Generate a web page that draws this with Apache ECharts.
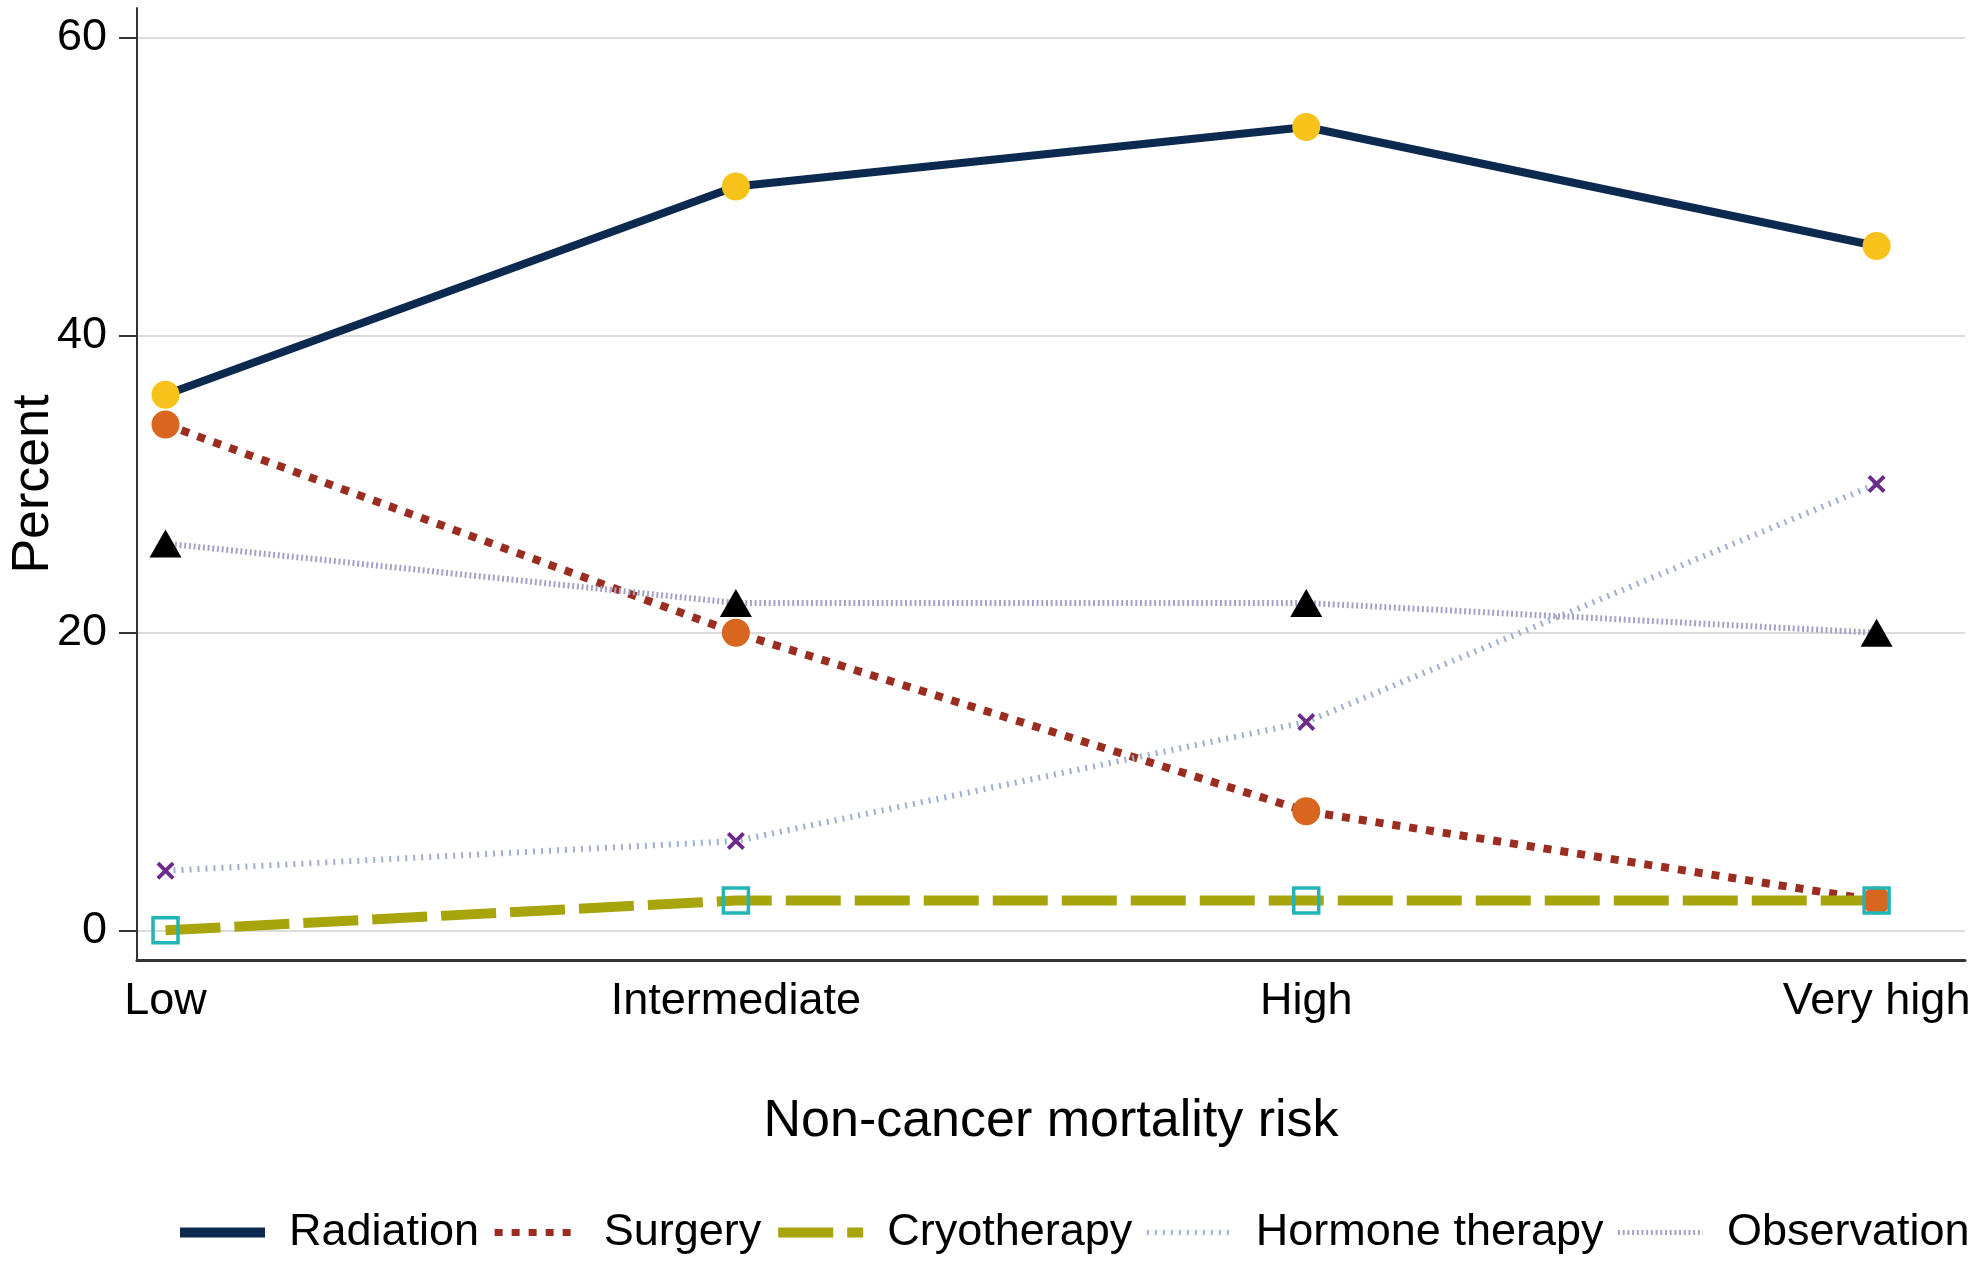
<!DOCTYPE html>
<html>
<head>
<meta charset="utf-8">
<script src="https://cdn.jsdelivr.net/npm/echarts@6/dist/echarts.min.js"></script>
<style>
  html, body { margin: 0; padding: 0; background: #fff; }
  #chart { width: 1984px; height: 1280px; }
</style>
</head>
<body>
<div id="chart"></div>
<script>
// categories on the x axis (placed at 1..4 on a value axis)
var categories = ["Low", "Intermediate", "High", "Very high"];
var yTicks = [0, 20, 40, 60];

// percent by treatment
var radiation = [36, 50, 54, 46];
var surgery = [34, 20, 8, 2];
var cryotherapy = [0, 2, 2, 2];
var hormoneTherapy = [4, 6, 14, 30];
var observation = [26, 22, 22, 20];

var font = "'Liberation Sans', Arial, sans-serif";
var xMark = "path://M1.5,0L5,3.5L8.5,0L10,1.5L6.5,5L10,8.5L8.5,10L5,6.5L1.5,10L0,8.5L3.5,5L0,1.5Z";

function toPoints(values) {
  return values.map(function (v, i) { return [i + 1, v]; });
}

var chart = echarts.init(document.getElementById("chart"));

var option = {
  backgroundColor: "#fff",
  animation: false,
  grid: { left: 137, right: 19, top: 8, bottom: 320, outerBoundsMode: "none" },
  legend: {
    left: 175,
    top: 1210,
    padding: 0,
    itemWidth: 85,
    itemHeight: 20,
    itemGap: 12,
    textStyle: { fontFamily: font, fontSize: 45, color: "#000", padding: [0, 0, 0, 19] },
    itemStyle: { opacity: 0 },
    data: [
      { name: "Radiation", lineStyle: { width: 10 } },
      { name: "Surgery", lineStyle: { width: 7 } },
      { name: "Cryotherapy", lineStyle: { width: 10 } },
      { name: "Hormone therapy", lineStyle: { width: 5 } },
      { name: "Observation", lineStyle: { width: 5 } }
    ]
  },
  xAxis: {
    type: "value",
    min: 0.95,
    max: 4.155,
    name: "Non-cancer mortality risk",
    nameLocation: "middle",
    nameGap: 136,
    nameMoveOverlap: false,
    nameTextStyle: { fontFamily: font, fontSize: 52, color: "#000" },
    axisLine: { onZero: false, lineStyle: { color: "#333", width: 3 } },
    axisTick: { show: false },
    splitLine: { show: false },
    axisLabel: {
      customValues: [1, 2, 3, 4],
      margin: 19,
      fontFamily: font,
      fontSize: 45,
      color: "#000",
      formatter: function (v) { return categories[Math.round(v) - 1] || ""; }
    }
  },
  yAxis: {
    type: "value",
    min: -2,
    max: 62,
    name: "Percent",
    nameLocation: "middle",
    nameRotate: 90,
    nameGap: 77,
    nameMoveOverlap: false,
    nameTextStyle: { fontFamily: font, fontSize: 52, color: "#000" },
    axisLine: { show: true, lineStyle: { color: "#333", width: 2 } },
    axisTick: { show: true, customValues: yTicks, length: 18, lineStyle: { color: "#333", width: 2 } },
    axisLabel: { customValues: yTicks, margin: 30, fontFamily: font, fontSize: 45, color: "#000" },
    splitLine: { show: true, lineStyle: { color: "#dcdcdc", width: 2 } }
  },
  series: [
    {
      name: "Radiation",
      type: "line",
      data: toPoints(radiation),
      symbol: "circle",
      symbolSize: 28,
      itemStyle: { color: "#f7c31a" },
      lineStyle: { color: "#0c2a4f", width: 8 }
    },
    {
      name: "Surgery",
      type: "line",
      data: toPoints(surgery),
      symbol: "circle",
      symbolSize: 28,
      itemStyle: { color: "#d9661f" },
      lineStyle: { color: "#9b2d20", width: 8, type: [8, 9] }
    },
    {
      name: "Cryotherapy",
      type: "line",
      data: toPoints(cryotherapy),
      symbol: "rect",
      symbolSize: 25,
      itemStyle: { color: "rgba(0,0,0,0)", borderColor: "#22b5b5", borderWidth: 3.5 },
      lineStyle: { color: "#a7a40c", width: 10, type: [55, 14] }
    },
    {
      name: "Hormone therapy",
      type: "line",
      data: toPoints(hormoneTherapy),
      symbol: xMark,
      symbolSize: 18,
      itemStyle: { color: "#6b2a8c" },
      lineStyle: { color: "#9eaed0", width: 6, type: [2, 6] }
    },
    {
      name: "Observation",
      type: "line",
      data: toPoints(observation),
      symbol: "triangle",
      symbolSize: [32, 28],
      itemStyle: { color: "#000" },
      lineStyle: { color: "#a6a2c6", width: 6, type: [2, 2.7] }
    }
  ]
};

chart.setOption(option);
</script>
</body>
</html>
